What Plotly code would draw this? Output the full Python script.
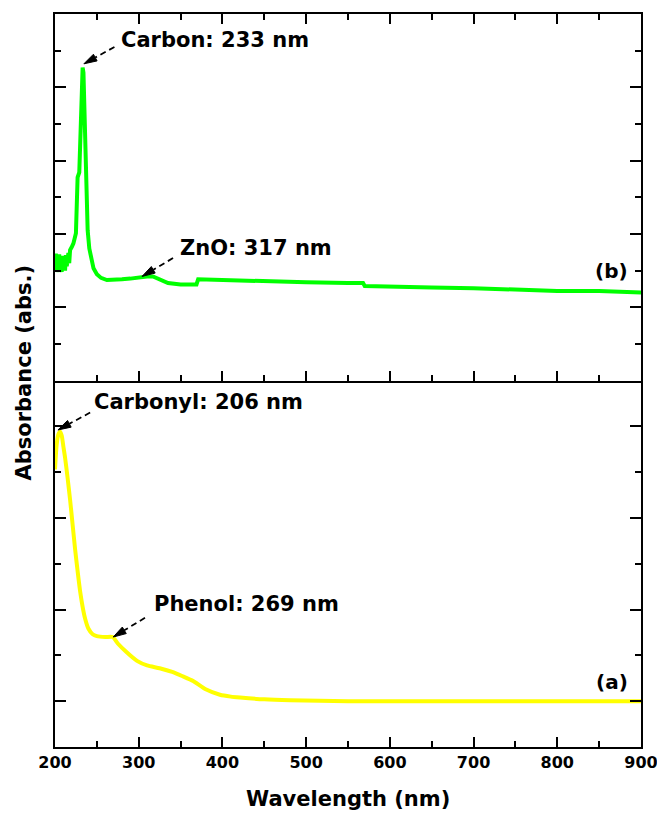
import plotly.graph_objects as go

# ---- data ----
# (a) yellow spectrum, bottom panel
wl_a = [200, 202, 204, 206, 208, 210, 212, 215, 218, 221, 224, 227, 230, 233, 236, 240,
        245, 250, 260, 269, 275, 285, 298, 310, 325, 340, 353, 365, 380, 397, 410, 421,
        450, 481, 550, 600, 700, 800, 900]
abs_a = [2.88, 3.15, 3.26, 3.29, 3.25, 3.13, 3.01, 2.79, 2.55, 2.28, 2.01, 1.77, 1.55, 1.38,
         1.25, 1.14, 1.08, 1.06, 1.05, 1.05, 0.98, 0.89, 0.79, 0.74, 0.71, 0.67, 0.62,
         0.57, 0.48, 0.42, 0.40, 0.39, 0.37, 0.36, 0.35, 0.35, 0.35, 0.35, 0.35]
abs_a = [v - 0.35 for v in abs_a]

# (b) green spectrum, top panel
wl_b = [200, 201, 202, 203, 204, 205, 206, 207, 208, 209, 210, 211, 212, 213, 214, 215,
        216, 217, 218, 220, 222, 225, 226, 227, 229, 230, 231, 232, 233, 234, 235, 236,
        237, 238, 239, 241, 243, 246, 250, 255, 262, 270, 280, 290, 300, 310, 317, 325,
        335, 350, 369, 371, 400, 450, 500, 550, 568, 570, 600, 650, 700, 750, 800, 850, 900]
abs_b = [0.61, 0.73, 0.48, 0.69, 0.51, 0.72, 0.53, 0.67, 0.48, 0.70, 0.54, 0.66, 0.50, 0.71,
         0.56, 0.68, 0.74, 0.60, 0.78, 0.82, 0.87, 1.01, 1.46, 1.77, 1.84, 2.14, 2.73, 3.09,
         3.27, 3.20, 2.82, 2.27, 1.69, 1.32, 1.05, 0.80, 0.68, 0.53, 0.45, 0.40, 0.37, 0.37,
         0.38, 0.39, 0.41, 0.42, 0.42, 0.38, 0.33, 0.31, 0.31, 0.38, 0.37, 0.35, 0.34, 0.33,
         0.33, 0.29, 0.28, 0.27, 0.26, 0.24, 0.22, 0.22, 0.20]

# annotations: (text, text_x, text_y, tail_x, tail_y, tip_x, tip_y, panel)
notes = [
    ("Carbon: 233 nm", 277, 3.64, 271, 3.55, 234.5, 3.32, "top"),
    ("ZnO: 317 nm", 347, 0.81, 341, 0.67, 304, 0.42, "top"),
    ("Carbonyl: 206 nm", 244, 3.27, 242, 3.15, 203.5, 2.96, "bottom"),
    ("Phenol: 269 nm", 316, 1.06, 307.5, 0.91, 269.5, 0.70, "bottom"),
]
panel_labels = [("(b)", 0.5, "top"), ("(a)", 0.21, "bottom")]

x_range = [200, 900]
top_range = [-1, 4]
bot_range = [-0.5, 3.5]

# ---- layout geometry ----
W, H = 657, 813
ML, MR, MT, MB = 55, 16, 14, 66
plot_w = W - ML - MR
plot_h = H - MT - MB
px_per_nm = plot_w / (x_range[1] - x_range[0])
ppu = {"top": (plot_h / 2) / (top_range[1] - top_range[0]),
       "bottom": (plot_h / 2) / (bot_range[1] - bot_range[0])}
yref = {"top": "y2", "bottom": "y"}

FONT = "DejaVu Sans"

fig = go.Figure()
fig.add_trace(go.Scatter(x=wl_a, y=abs_a, mode="lines", xaxis="x", yaxis="y",
                         line=dict(color="#FFFF00", width=4, shape="spline", smoothing=0.6),
                         showlegend=False))
fig.add_trace(go.Scatter(x=wl_b, y=abs_b, mode="lines", xaxis="x2", yaxis="y2",
                         line=dict(color="#00FF00", width=4), showlegend=False))

annotations = []
shapes = []
for text, tx, ty, x0, y0, x1, y1, panel in notes:
    yr = yref[panel]
    xr = "x2" if panel == "top" else "x"
    k = ppu[panel]
    annotations.append(dict(x=tx, y=ty, xref=xr, yref=yr, text=text, showarrow=False,
                            xanchor="left", yanchor="middle",
                            font=dict(family=FONT, size=21, color="black", weight="bold")))
    # pixel direction from tip to tail (screen coords, y down)
    dx = (x0 - x1) * px_per_nm
    dy = -(y0 - y1) * k
    L = (dx * dx + dy * dy) ** 0.5
    ux, uy = dx / L, dy / L
    nx, ny = -uy, ux
    h, w = 13.0, 3.8
    bxp, byp = ux * h, uy * h

    def to_data(px, py):
        return x1 + px / px_per_nm, y1 - py / k

    bx, by = to_data(bxp, byp)
    lx, ly = to_data(bxp + nx * w, byp + ny * w)
    rx, ry = to_data(bxp - nx * w, byp - ny * w)
    shapes.append(dict(type="path", xref=xr, yref=yr,
                       path=f"M{x1},{y1} L{lx},{ly} L{rx},{ry} Z",
                       fillcolor="black", line=dict(color="black", width=1)))
    shapes.append(dict(type="line", xref=xr, yref=yr, x0=x0, y0=y0, x1=bx, y1=by,
                       line=dict(color="black", width=1.8, dash="6px,4px")))

for text, yv, panel in panel_labels:
    annotations.append(dict(x=0.95, y=yv, xref="paper", yref=yref[panel], text=text,
                            showarrow=False, xanchor="center", yanchor="middle",
                            font=dict(family=FONT, size=20, color="black", weight="bold")))

annotations.append(dict(x=0.5, y=-(799 - (H - MB)) / plot_h, xref="paper", yref="paper",
                        text="Wavelength (nm)", showarrow=False, xanchor="center",
                        yanchor="middle",
                        font=dict(family=FONT, size=21, color="black", weight="bold")))
annotations.append(dict(x=-(ML - 23.5) / plot_w, y=(H - MB - 373) / plot_h, xref="paper",
                        yref="paper", text="Absorbance (abs.)", showarrow=False,
                        textangle=-90, xanchor="center", yanchor="middle",
                        font=dict(family=FONT, size=21, color="black", weight="bold")))

common_x = dict(range=x_range, showgrid=False, zeroline=False, ticks="inside",
                ticklen=10, tickwidth=2, tickcolor="black", dtick=100, tick0=200,
                showline=True, linecolor="black", linewidth=2, automargin=False,
                minor=dict(ticks="inside", dtick=50, ticklen=6, tickwidth=2,
                           tickcolor="black", showgrid=False))
common_y = dict(showgrid=False, zeroline=False, ticks="inside", ticklen=11, tickwidth=2,
                tickcolor="black", dtick=1, showticklabels=False, showline=True,
                linecolor="black", linewidth=2, mirror="ticks", automargin=False,
                minor=dict(ticks="inside", dtick=0.5, ticklen=6, tickwidth=2,
                           tickcolor="black", showgrid=False))

fig.update_layout(
    width=W, height=H,
    margin=dict(l=ML, r=MR, t=MT, b=MB, autoexpand=False),
    paper_bgcolor="white", plot_bgcolor="white",
    xaxis=dict(**common_x, anchor="y", mirror=False, showticklabels=True,
               ticklabeloverflow="allow",
               tickfont=dict(family=FONT, size=16, color="black", weight="bold")),
    xaxis2=dict(**common_x, anchor="y2", matches="x", mirror="ticks",
                showticklabels=False),
    yaxis=dict(**common_y, domain=[0, 0.5], range=bot_range, anchor="x"),
    yaxis2=dict(**common_y, domain=[0.5, 1], range=top_range, anchor="x2"),
    annotations=annotations,
    shapes=shapes,
)

fig.write_html("out.html")
